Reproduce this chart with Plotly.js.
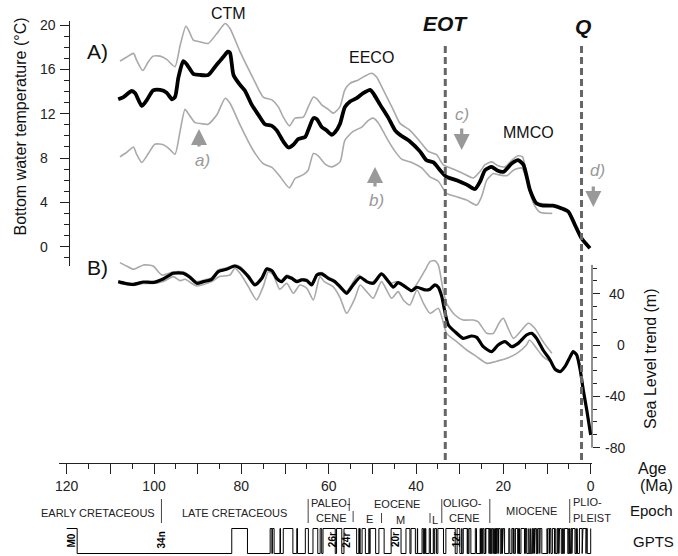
<!DOCTYPE html>
<html><head><meta charset="utf-8">
<script src="https://cdn.plot.ly/plotly-3.0.1.min.js"></script>
<style>html,body{margin:0;padding:0;background:#fff}#chart{width:678px;height:556px}</style>
</head><body><div id="chart"></div>
<script>
// ---------------- DATA ----------------
// Bottom water temperature (°C) vs age (Ma)
const tempMeanAge = [108.2,107.0,105.1,104.3,102.8,101.7,100.2,98.6,97.1,95.9,95.2,94.4,93.3,92.4,91.0,89.5,87.6,86.0,84.1,83.1,82.6,81.8,80.3,79.2,77.6,76.1,74.6,73.0,71.9,70.4,69.2,68.1,67.0,65.4,64.7,63.5,62.7,61.6,60.5,59.3,58.6,57.4,56.3,55.1,53.6,52.1,50.5,49.8,48.2,46.3,44.8,43.7,41.4,39.1,37.6,36.0,34.5,33.0,30.7,28.4,26.5,25.3,24.2,22.7,21.5,20.0,18.1,16.6,15.4,13.9,12.4,10.9,8.6,6.6,5.1,3.6,2.1,0.16];
const tempMean    = [13.3,13.5,14.05,13.85,12.7,13.2,14.1,14.15,13.9,13.3,13.5,15.3,16.75,16.4,15.6,15.5,15.5,16.25,17.15,17.6,17.5,15.5,14.6,14.1,12.8,11.9,11.05,10.9,10.5,9.5,8.95,9.2,9.7,9.9,10.5,11.6,11.5,10.8,10.5,10.1,10.3,11.1,12.6,13.1,13.4,13.85,14.15,13.85,12.8,11.6,10.5,10.1,9.5,8.6,7.8,7.6,6.9,6.3,6.0,5.6,5.2,5.9,6.9,7.2,6.9,6.75,7.5,7.8,7.4,5.1,3.9,3.7,3.7,3.45,3.15,1.95,0.75,-0.15];

const tempUpAge = [107.8,106.3,104.7,104.0,102.6,101.3,100.2,98.6,97.1,95.2,94.0,92.7,91.9,91.0,89.5,87.6,85.6,83.7,82.6,80.3,77.3,75.0,73.0,71.5,70.4,69.0,67.7,65.8,64.7,63.5,62.7,61.6,60.1,58.9,57.4,56.3,55.1,53.2,51.7,50.2,49.0,47.5,45.2,43.7,41.4,39.1,37.2,35.3,33.8,31.5,29.2,26.9,25.3,24.2,22.7,21.2,19.6,18.1,16.6,15.6,14.3,12.4,10.1,8.9];
const tempUp    = [16.75,17.1,17.45,16.85,15.9,16.7,17.2,17.2,16.9,16.25,18.2,19.9,19.4,18.65,18.5,18.35,19.25,20.15,19.7,17.6,15.2,13.5,13.25,12.6,11.7,10.9,11.6,11.7,12.6,13.5,13.35,12.8,12.4,12.05,12.65,14.15,14.75,15.05,15.4,15.65,15.3,14.15,12.35,11.15,10.5,9.5,8.6,8.3,7.4,7.0,6.6,6.2,6.8,7.4,7.65,7.3,7.2,7.8,8.2,8.1,5.7,4.0,3.85,3.75];

const tempLowAge = [107.8,106.3,104.7,104.0,102.8,101.3,99.8,97.9,96.7,95.2,94.0,92.9,92.2,90.6,89.1,87.6,85.6,83.7,82.6,80.3,77.3,75.0,73.0,71.1,69.0,67.7,65.8,64.7,63.5,62.4,60.8,59.3,57.4,56.3,54.4,52.4,50.9,49.8,48.6,46.7,44.8,43.3,41.0,38.7,36.8,34.9,33.0,30.7,28.4,26.1,25.0,23.8,22.3,21.2,19.2,17.7,15.8,14.7,13.1,11.6,8.8];
const tempLow    = [8.1,8.5,9.0,8.35,7.6,8.4,9.25,9.2,8.9,8.35,10.5,12.4,12.05,11.2,11.1,11.05,11.9,13.4,12.95,11.0,8.7,7.5,7.15,6.3,5.3,6.15,6.5,6.9,8.4,8.2,7.45,7.2,7.65,9.6,10.4,10.8,11.4,11.6,11.15,9.8,8.6,7.9,7.6,7.1,6.3,5.9,4.8,4.5,4.2,3.75,4.5,6.0,6.6,6.5,6.4,6.9,7.1,6.1,3.9,3.1,3.0];

// Sea level trend (m) vs age (Ma)
const slMeanAge = [108.2,106.6,104.7,102.4,100.2,97.9,95.6,93.3,91.8,90.2,88.7,86.8,85.3,83.4,81.5,80.3,78.4,76.9,75.3,74.2,73.0,71.9,70.8,69.6,68.5,67.3,66.2,65.0,63.9,62.7,61.6,60.1,58.6,57.4,55.9,54.4,52.8,51.3,49.8,47.9,46.3,45.2,44.1,42.5,41.0,39.8,37.9,36.8,35.7,34.9,34.1,33.4,32.6,31.1,29.2,27.3,26.1,24.6,22.7,21.2,19.6,18.1,16.6,14.7,13.5,12.4,10.9,9.3,8.2,7.0,5.9,4.7,4.0,3.2,2.4,1.7,0.9,0.0];
const slMean    = [49.4,48.1,47.3,49.1,48.8,51.5,55.9,55.9,52.8,48.1,49.4,51.2,57.2,59.0,61.6,59.8,53.3,46.8,52.0,59.3,57.9,52.0,49.4,53.3,52.0,49.4,50.7,50.2,46.8,54.6,55.4,52.0,49.4,45.5,40.3,46.8,52.8,49.4,48.1,55.4,49.4,45.0,48.6,45.5,42.3,45.0,42.9,43.5,46.8,45.0,37.7,26.0,15.6,10.4,5.2,7.0,6.0,-1.3,-5.2,0.0,2.6,-1.3,1.3,7.8,9.1,5.2,-3.9,-11.7,-18.7,-20.8,-16.9,-9.1,-5.2,-7.8,-19.5,-35.1,-50.7,-70.2];

const slUpAge = [107.8,106.3,104.7,102.4,100.2,98.2,95.6,93.3,91.8,90.2,88.7,86.8,85.3,83.4,81.5,80.3,78.4,76.9,75.3,74.2,73.0,71.9,70.8,69.6,68.5,67.3,66.2,65.0,63.9,62.7,61.6,60.1,58.6,57.4,55.9,53.2,51.3,49.8,47.9,46.0,44.4,42.5,41.0,39.7,37.9,36.8,35.7,34.9,33.8,33.0,31.1,29.2,26.9,25.8,23.8,22.3,20.8,20.0,18.9,17.7,15.8,14.3,12.8,10.9,8.9];
const slUp    = [64.2,61.6,59.0,62.4,61.6,54.6,57.0,57.0,54.0,49.5,50.5,52.5,58.5,60.0,62.5,61.0,54.5,48.0,53.0,60.0,58.5,53.0,50.5,54.5,53.0,50.5,51.5,51.2,48.0,55.5,56.5,53.0,50.5,44.0,42.0,54.6,49.4,49.4,55.9,48.1,49.4,46.0,42.9,48.1,58.5,65.0,65.7,62.4,42.9,32.5,23.4,19.5,19.5,18.2,9.1,9.1,18.2,20.8,13.0,5.2,11.7,16.9,13.0,2.6,-6.5];

const slLowAge = [107.8,104.7,102.4,100.2,97.9,95.6,94.0,92.9,90.2,86.8,85.0,82.6,81.5,80.3,78.4,76.5,75.0,73.8,72.7,71.2,69.6,68.1,66.6,65.0,63.5,62.0,61.0,59.0,57.4,55.9,54.0,52.8,51.3,49.8,47.9,45.6,44.1,42.9,41.4,39.8,38.3,36.8,34.9,33.8,33.0,30.7,28.4,26.1,23.8,21.9,19.2,16.9,14.7,14.0,12.4,10.9,9.3];
const slLow    = [48.0,46.5,48.0,48.0,49.5,53.3,50.2,51.2,46.0,49.4,53.3,54.6,59.8,55.9,45.5,35.1,45.5,57.2,54.6,43.4,48.1,40.3,46.8,44.2,35.1,53.3,49.4,45.5,37.0,24.7,36.4,46.8,41.6,36.4,49.4,36.4,41.6,35.1,31.2,42.9,32.5,24.7,28.6,18.2,9.1,2.6,-3.9,-9.1,-14.3,-13.0,-10.4,-6.5,0.0,3.9,-2.6,-9.1,-13.0];

// GPTS: normal-polarity intervals [older, younger] in Ma (line drawn low), reversed otherwise
const gptsNormal = [[117.6,82.2],[78.6,73.4],[73.0,72.9],[72.5,71.15],[71.05,70.4],[68.2,67.3],[67.15,65.35],[64.65,63.6],[62.5,61.95],[61.6,61.3],[58.5,58.2],[57.0,56.5],[53.6,53.1],[52.95,52.9],[52.8,52.35],[51.6,50.8],[50.7,50.5],[49.25,48.5],[47.3,45.7],
[43.43,42.30],[41.39,41.15],[40.15,39.70],[39.63,38.62],[38.33,38.16],[38.09,37.87],[37.75,36.97],[36.70,36.05],[35.89,35.71],[35.29,35.00],[33.71,33.16],[31.03,30.59],[29.97,29.53],[29.48,29.18],[28.28,28.14],[28.09,27.86],[27.44,26.42],[26.15,25.30],[25.26,25.10],[24.98,24.76],[24.47,24.15],[24.11,24.00],[23.30,23.23],[23.03,22.90],[22.75,22.56],[22.27,21.99],[21.94,21.77],[21.69,21.66],[21.48,21.40],[21.16,21.08],[20.71,20.44],[20.21,20.04],[19.72,18.75],[18.52,18.06],[17.74,17.72],[17.53,17.24],[16.72,16.54],[16.47,16.30],[16.27,15.97],[15.16,15.03],[14.87,14.78],[14.61,14.16],[14.07,13.74],[13.61,13.36],[13.18,13.03],[12.89,12.83],[12.77,12.74],[12.47,12.27],[12.17,12.05],[11.66,11.59],[11.19,11.15],[11.06,9.98],[9.94,9.79],[9.72,9.65],[9.43,9.31],[9.11,8.77],[8.30,8.25],[8.11,7.70],[7.64,7.53],[7.49,7.45],[7.29,7.25],[7.21,7.14],[6.73,6.44],[6.25,6.03],[5.24,5.00],[4.90,4.80],[4.63,4.49],[4.30,4.19],[3.60,3.33],[3.21,3.12],[3.03,2.58],[1.95,1.78],[1.07,0.99],[0.78,0.0]];
const gptsStart = 120;
const chronLabels = ['M0','34n','26r','24r','20r','12r','1n'];
const chronAges   = [118.9,98.3,59.2,56.1,44.8,30.8,-0.5];

// Epoch row
const epochNames = ['EARLY CRETACEOUS','LATE CRETACEOUS','PALEO-','CENE','E','EOCENE','M','L','OLIGO-','CENE','MIOCENE','PLIO-','PLEIST'];
const epochAges  = [112.9,81.5,59.4,59.3,50.6,44.4,43.6,35.6,29.3,28.9,13.6,4.5,4.5];
const epochBoundFull = [98.3,64.7,34.1,23.1,4.8];
const epochBoundLow  = [47.9,36.8];

// Events
const eventNames = ['EOT','Q'];
const eventAges  = [33.3,2.1];

// Ticks
const xTickVals = [120,110,100,90,80,70,60,50,40,30,20,10,0];
const xTickText = ['120','','100','','80','','60','','40','','20','','0'];
const xMinorVals = [115,105,95,85,75,65,55,45,35,25,15,5];
const tempTickVals = [0,4,8,12,16,20];
const tempTickText = ['0','4','8','12','16','20'];
const tempMinorVals = [-1,1,2,3,5,6,7,9,10,11,13,14,15,17,18,19];
const slTickVals = [-80,-40,0,40];
const slTickText = ['-80','-40','0','40'];
const slMinorVals = [-70,-60,-50,-30,-20,-10,10,20,30,50,60];

// ---------------- LAYOUT HELPERS ----------------
const W = 678, H = 556;
const px = v => v / W;
const py = v => 1 - v / H;
const FONT = 'Liberation Sans, Arial, Helvetica, sans-serif';
const GRAY = '#a9a9a9', AXC = '#222';

const tempRange = [-1.75, 20.4];
const slRange = [-88, 70];

// GPTS polyline
const gx = [gptsStart], gy = [1];
gptsNormal.forEach(([o, y]) => { gx.push(o, o, y, y); gy.push(1, 0, 0, 1); });

const SM = {shape:'spline', smoothing:0.6};
const traces = [
  {x: tempUpAge, y: tempUp, xaxis:'x', yaxis:'y', mode:'lines', line:Object.assign({color:GRAY, width:1.6}, SM)},
  {x: tempLowAge, y: tempLow, xaxis:'x', yaxis:'y', mode:'lines', line:Object.assign({color:GRAY, width:1.6}, SM)},
  {x: tempMeanAge, y: tempMean, xaxis:'x', yaxis:'y', mode:'lines', line:Object.assign({color:'#000', width:3.8}, SM)},
  {x: slUpAge, y: slUp, xaxis:'x', yaxis:'y2', mode:'lines', line:Object.assign({color:GRAY, width:1.6}, SM)},
  {x: slLowAge, y: slLow, xaxis:'x', yaxis:'y2', mode:'lines', line:Object.assign({color:GRAY, width:1.6}, SM)},
  {x: slMeanAge, y: slMean, xaxis:'x', yaxis:'y2', mode:'lines', line:Object.assign({color:'#000', width:3.2}, SM)},
  {x: gx, y: gy, xaxis:'x', yaxis:'y5', mode:'lines', line:{color:'#000', width:1}}
];

const shapes = [];
// right axis line
shapes.push({type:'line', xref:'paper', yref:'y2', x0:px(592), x1:px(592), y0:-80, y1:62.4, line:{color:AXC, width:1}});
// event dashed lines
eventAges.forEach(a => shapes.push({type:'line', xref:'x', yref:'paper', x0:a, x1:a, y0:py(460), y1:py(43), line:{color:'#666', width:3, dash:'7px,4px'}}));
// epoch separators
epochBoundFull.forEach(a => shapes.push({type:'line', xref:'x', yref:'paper', x0:a, x1:a, y0:py(523), y1:py(499), line:{color:'#444', width:1}}));
epochBoundLow.forEach(a => shapes.push({type:'line', xref:'x', yref:'paper', x0:a, x1:a, y0:py(523), y1:py(513), line:{color:'#444', width:1}}));
// Paleocene/Eocene (slightly offset halves)
shapes.push({type:'line', xref:'x', yref:'paper', x0:55.3, x1:55.3, y0:py(511), y1:py(498), line:{color:'#444', width:1}});
shapes.push({type:'line', xref:'x', yref:'paper', x0:54.4, x1:54.4, y0:py(522), y1:py(511), line:{color:'#444', width:1}});

const ann = [];
function txt(t, x, y, size, opts = {}) {
  ann.push(Object.assign({text:t, x:px(x), y:py(y), xref:'paper', yref:'paper', showarrow:false,
    xanchor:'center', yanchor:'middle', font:{family:FONT, size:size, color:opts.color || '#111'}}, opts.extra || {}));
}
txt('CTM', 228, 14, 16);
txt('EECO', 371, 57.5, 16);
txt('MMCO', 528.5, 132.5, 16);
txt('A)', 97, 52, 21);
txt('B)', 97, 267, 21);
txt('<b><i>EOT</i></b>', 445, 24, 21);
txt('<b><i>Q</i></b>', 583, 26, 21);
txt('<i>a)</i>', 202, 160, 17, {color:'#999'});
txt('<i>b)</i>', 376, 200, 17, {color:'#999'});
txt('<i>c)</i>', 462, 114, 17, {color:'#999'});
txt('<i>d)</i>', 597, 170, 17, {color:'#999'});
txt('Bottom water temperature (°C)', 20, 126.5, 16, {extra:{textangle:-90}});
txt('Sea Level trend (m)', 650, 359, 16, {extra:{textangle:-90}});
txt('Age', 652, 468, 16);
txt('(Ma)', 656, 485, 16);
txt('Epoch', 651, 511, 15);
txt('GPTS', 653, 541, 15);

// y tick labels (left-aligned on the temperature axis, right-aligned on the sea-level axis)
tempTickVals.forEach((v, i) => ann.push({text:tempTickText[i], x:px(37.5), y:v, xref:'paper', yref:'y', showarrow:false,
  xanchor:'left', yanchor:'middle', font:{family:FONT, size:14, color:AXC}}));
slTickVals.forEach((v, i) => ann.push({text:slTickText[i], x:px(626.5), y:v, xref:'paper', yref:'y2', showarrow:false,
  xanchor:'right', yanchor:'middle', font:{family:FONT, size:14, color:AXC}}));

// epoch names in data x
const epochY = [513,513,502.5,518,519,504,520,520,502.5,518,511,501.5,517.5];
epochNames.forEach((n, i) => {
  const left = (n === 'PLIO-' || n === 'PLEIST');
  ann.push({text:n, x:epochAges[i], y:py(epochY[i]), xref:'x', yref:'paper', showarrow:false,
    xanchor: left ? 'left' : 'center', yanchor:'middle', font:{family:FONT, size:11, color:'#222'}});
});
// chron labels
chronLabels.forEach((n, i) => {
  ann.push({text:'<b>'+n+'</b>', x:chronAges[i], y:py(n === '1n' ? 543 : 540), xref:'x', yref:'paper', showarrow:false,
    textangle:-90, xanchor:'center', yanchor:'middle', font:{family:FONT, size:10, color:'#000'}});
});
// arrows
function arrow(x, yHead, yTail) {
  ann.push({x:px(x), y:py(yHead), xref:'paper', yref:'paper', ax:0, ay:(yTail - yHead), axref:'pixel', ayref:'pixel',
    text:'', showarrow:true, arrowhead:2, arrowsize:1, arrowwidth:3.2, arrowcolor:'#999', standoff:0, startstandoff:0});
}
arrow(199, 129, 148);
arrow(375, 167, 188);
arrow(461.7, 150, 127);
arrow(593.3, 207, 185);

const layout = {
  width: W, height: H, margin:{l:0, r:0, t:0, b:0}, paper_bgcolor:'#fff', plot_bgcolor:'rgba(0,0,0,0)',
  showlegend:false, font:{family:FONT, color:AXC},
  xaxis:{domain:[px(59), px(592)], range:[121.76, -0.30], anchor:'free', position:py(463),
    showline:true, linecolor:AXC, linewidth:1, ticks:'outside', ticklen:10, tickwidth:1, tickcolor:AXC,
    tickmode:'array', tickvals:xTickVals, ticktext:xTickText, tickfont:{family:FONT, size:14, color:AXC},
    showgrid:false, zeroline:false, fixedrange:true,
    minor:{tickmode:'array', tickvals:xMinorVals, ticks:'outside', ticklen:5, tickwidth:1, tickcolor:AXC, showgrid:false}},
  yaxis:{domain:[py(266), py(20.7)], range:tempRange, anchor:'free', position:px(69), side:'left',
    showline:true, linecolor:AXC, linewidth:1, ticks:'outside', ticklen:9, tickwidth:1, tickcolor:AXC,
    tickmode:'array', tickvals:tempTickVals, showticklabels:false, showgrid:false, zeroline:false,
    minor:{tickmode:'array', tickvals:tempMinorVals, ticks:'outside', ticklen:5, tickwidth:1, tickcolor:AXC, showgrid:false}},
  yaxis2:{domain:[py(457.9), py(255.2)], range:slRange, anchor:'free', position:px(592), side:'right',
    showline:false, ticks:'outside', ticklen:7, tickwidth:1, tickcolor:AXC,
    tickmode:'array', tickvals:slTickVals, showticklabels:false, showgrid:false, zeroline:false,
    minor:{tickmode:'array', tickvals:slMinorVals, ticks:'outside', ticklen:4, tickwidth:1, tickcolor:AXC, showgrid:false}},
  yaxis5:{domain:[py(554.75), py(527.25)], range:[-0.05, 1.05], anchor:'free', position:0, visible:false, fixedrange:true},
  shapes: shapes,
  annotations: ann
};

Plotly.newPlot('chart', traces, layout, {staticPlot:true, displayModeBar:false});
</script></body></html>
